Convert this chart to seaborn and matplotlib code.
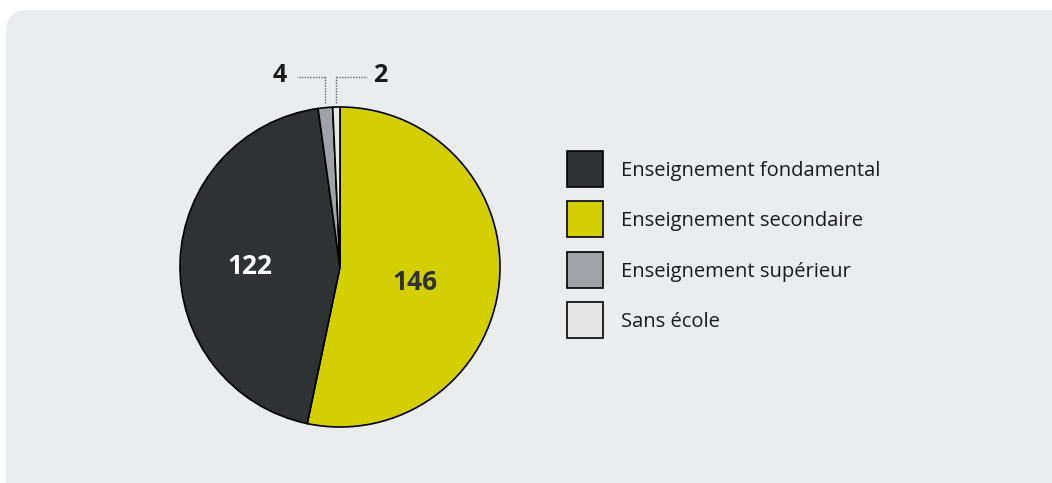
import matplotlib
matplotlib.use("Agg")
import matplotlib.pyplot as plt
import seaborn as sns
import numpy as np
from matplotlib.patches import FancyBboxPatch, Patch, Rectangle
from matplotlib.legend_handler import HandlerPatch

# ---- data ----
categories = ["Enseignement fondamental", "Enseignement secondaire",
              "Enseignement supérieur", "Sans école"]
values = [122, 146, 4, 2]
colors = ["#2f3233", "#d4cf00", "#9fa3a8", "#e6e6e6"]
# drawing order of wedges (clockwise from 12 o'clock)
pie_order = [1, 0, 2, 3]

sns.set_theme(style="white")
plt.rcParams["font.family"] = ["Open Sans", "DejaVu Sans"]

W, H = 1052, 483
fig = plt.figure(figsize=(W / 100, H / 100), dpi=100)
fig.patch.set_facecolor("white")

# background panel (pixel coordinates)
ax_bg = fig.add_axes([0, 0, 1, 1], zorder=-5)
ax_bg.set_xlim(0, W)
ax_bg.set_ylim(0, H)
ax_bg.axis("off")
ax_bg.add_patch(FancyBboxPatch((6, -40), W + 40, H - 10 + 40,
                               boxstyle="round,pad=0,rounding_size=22",
                               facecolor="#ebecee", edgecolor="none"))

# pie axes: centre (340,267) px, radius 160 px, limits +-1.3
cx, cy, r = 340, H - 267, 160
half = 1.3 * r
ax = fig.add_axes([(cx - half) / W, (cy - half) / H, 2 * half / W, 2 * half / H])

pal = sns.color_palette(colors)
vals = [values[i] for i in pie_order]
cols = [pal[i] for i in pie_order]
wedges, _ = ax.pie(vals, colors=cols, startangle=90, counterclock=False,
                   radius=1.0, wedgeprops=dict(edgecolor="black", linewidth=1.2))
ax.set_xlim(-1.3, 1.3)
ax.set_ylim(-1.3, 1.3)
ax.set_aspect("equal")
ax.axis("off")

# big labels
ax.text(-0.56, 0.0, str(values[0]), color="white", fontsize=19,
        fontweight="bold", ha="center", va="center")
ax.text(0.47, -0.095, str(values[1]), color="#2f3233", fontsize=19,
        fontweight="bold", ha="center", va="center")

# small labels with dotted leaders
ly = 1.19
dot = dict(color="#666666", linewidth=1.0, linestyle=(0, (1, 1)), clip_on=False)
for idx, tx, lx_end in [(2, -0.375, -0.27), (3, 0.25, 0.17)]:
    w = wedges[pie_order.index(idx)]
    mid = np.deg2rad((w.theta1 + w.theta2) / 2)
    xm = np.cos(mid)
    ax.plot([xm, xm], [1.025, ly], **dot)
    ax.plot([xm, lx_end], [ly, ly], **dot)
    ax.text(tx, ly + 0.01, str(values[idx]), color="#1a1a1a", fontsize=18,
            fontweight="bold", ha="center", va="center", clip_on=False)


class SquareHandler(HandlerPatch):
    side = 25.9  # points (36 px)

    def create_artists(self, legend, orig_handle, xdescent, ydescent,
                       width, height, fontsize, trans):
        s = self.side
        xc = -xdescent + width / 2
        yc = -ydescent + height / 2
        p = Rectangle((xc - s / 2, yc - s / 2), s, s)
        self.update_prop(p, orig_handle, legend)
        p.set_transform(trans)
        return [p]


# legend
handles = [Patch(facecolor=pal[i], edgecolor="black", linewidth=1.2)
           for i in range(len(categories))]
fs = 14.5
fig.legend(handles, categories, loc="upper left",
           bbox_to_anchor=(567 / W, (H - 160) / H), frameon=False,
           fontsize=fs, handlelength=25.9 / fs, handleheight=1.0,
           handletextpad=0.9, labelspacing=1.46, borderpad=0,
           borderaxespad=0, labelcolor="#1a1a1a",
           handler_map={Patch: SquareHandler()})

fig.savefig("out.png", dpi=100, facecolor=fig.get_facecolor())
